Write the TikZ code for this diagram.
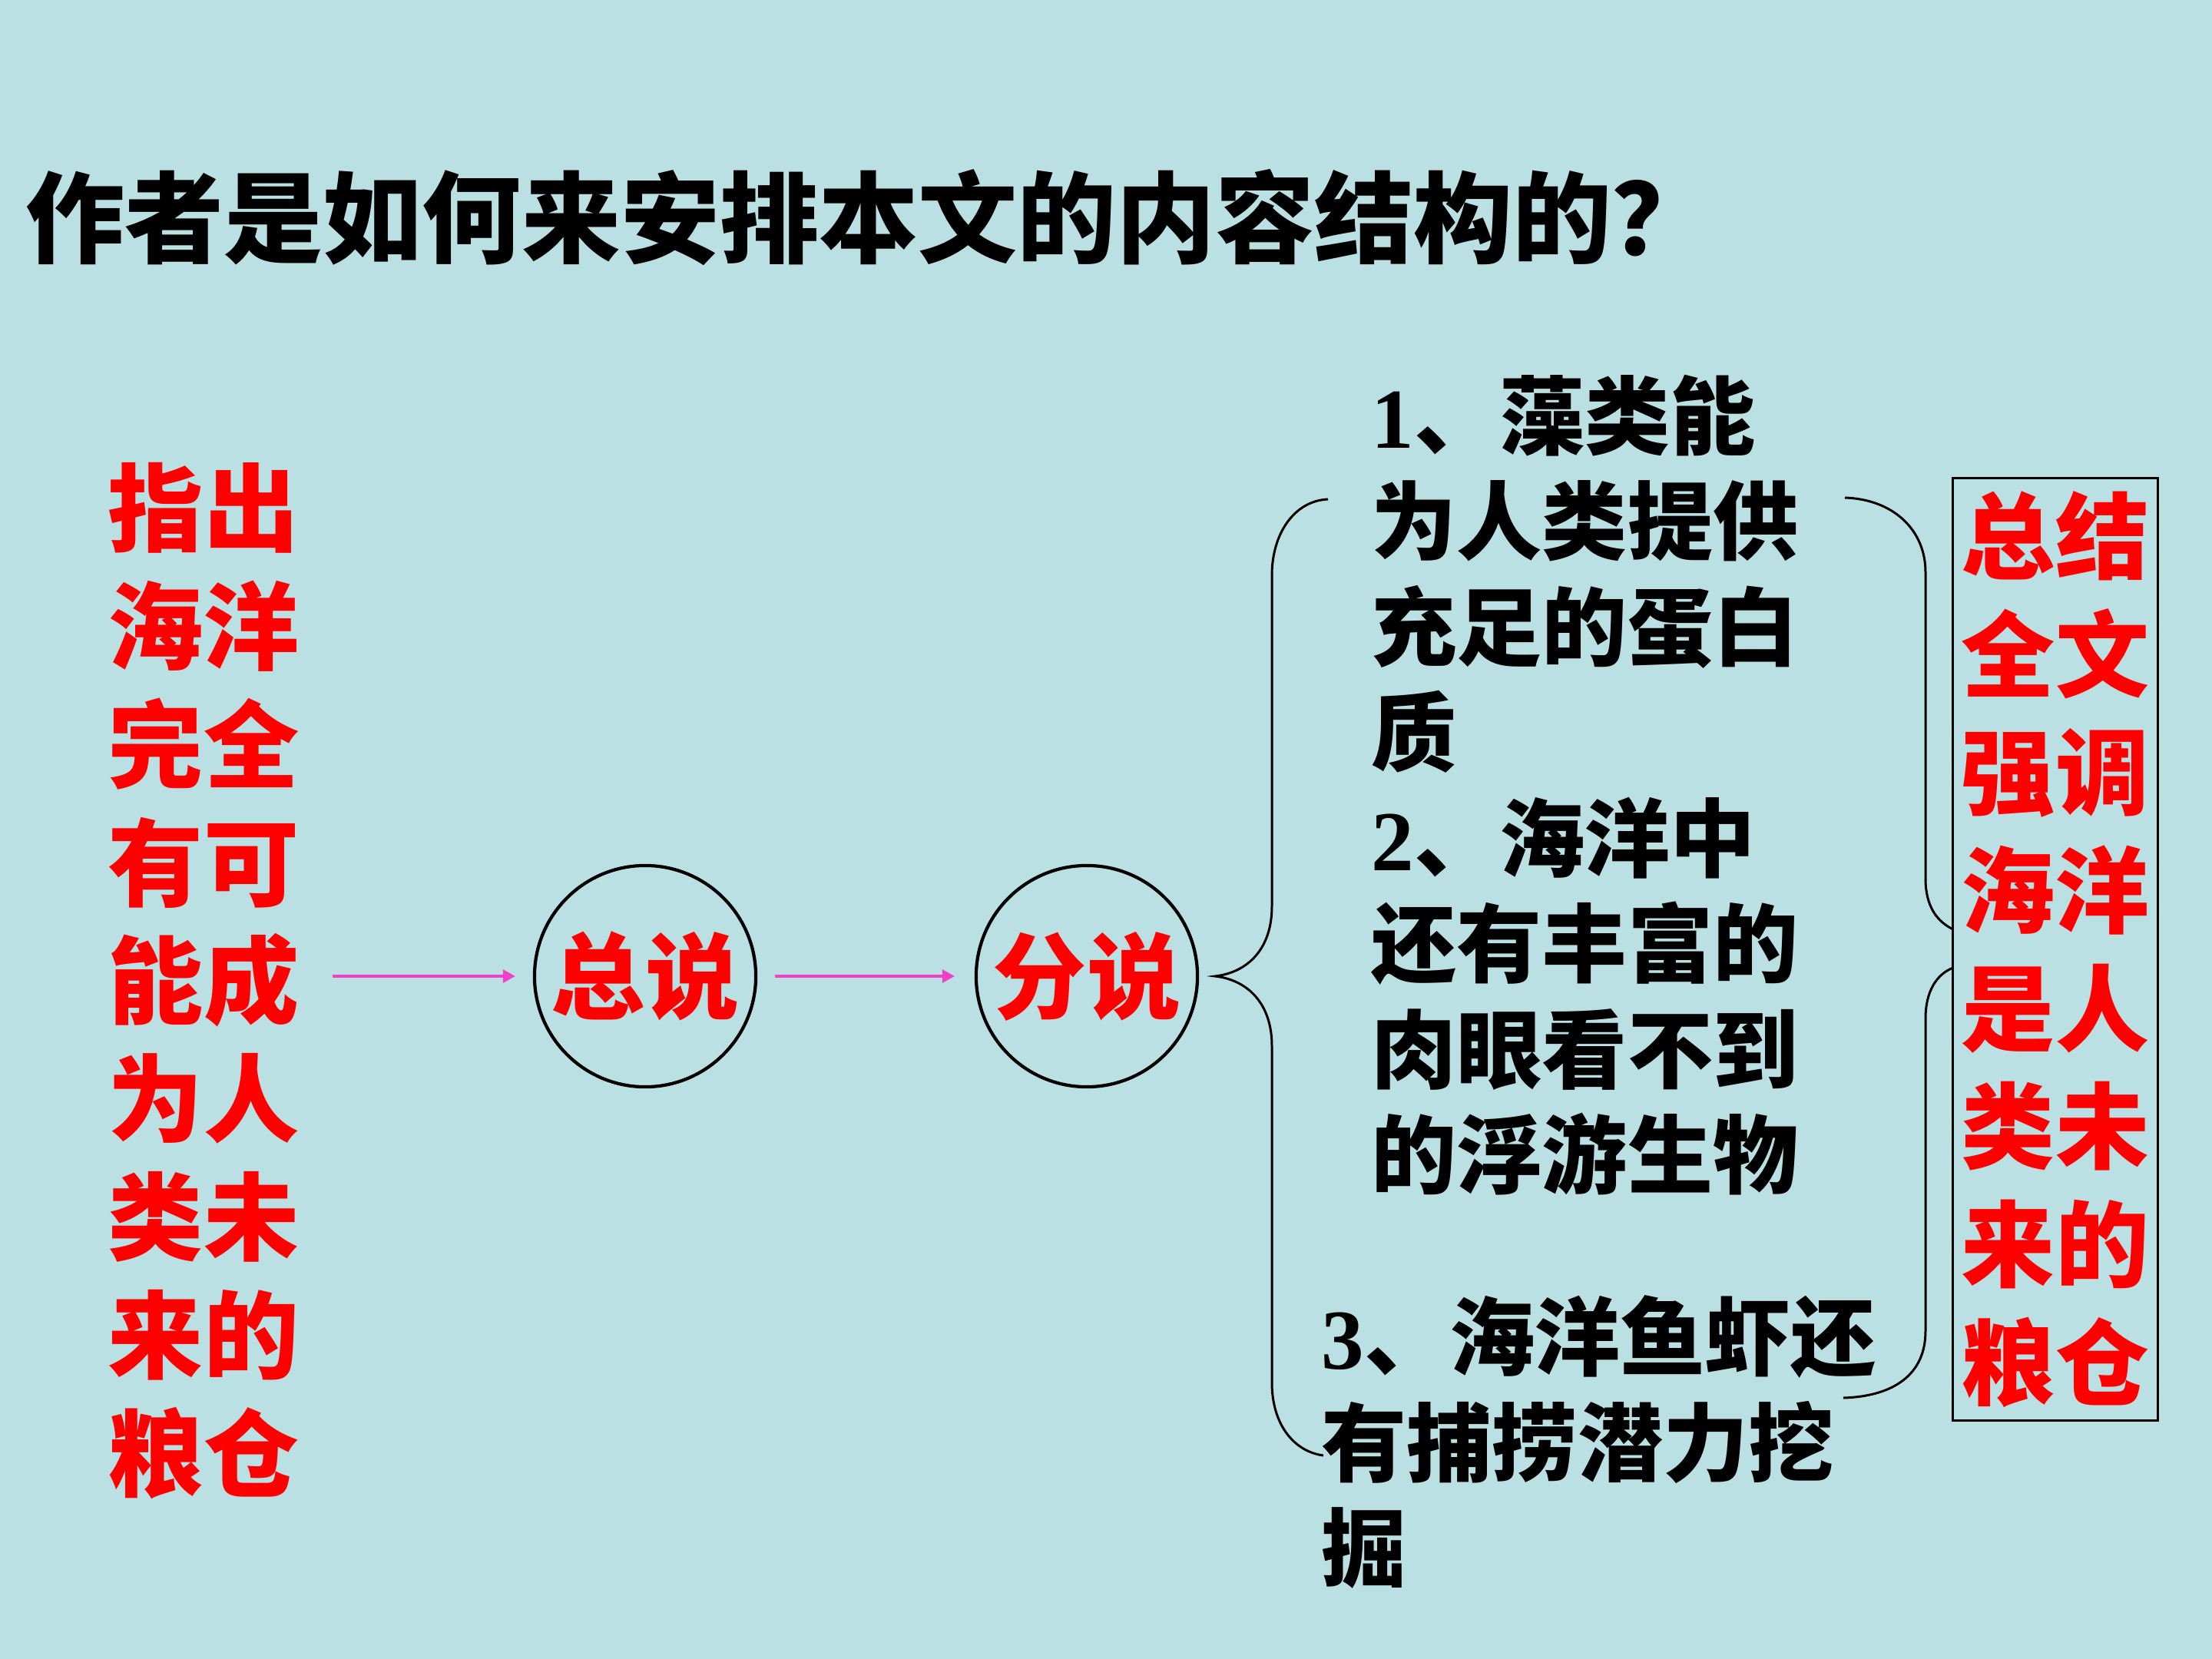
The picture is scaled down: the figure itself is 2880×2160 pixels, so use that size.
\documentclass[tikz,border=0pt]{standalone}
\usepackage{fontspec}
\newfontfamily\cjk{Noto Sans CJK SC}
\newfontfamily\tnr{Liberation Serif}
\usetikzlibrary{arrows.meta}
\definecolor{bgc}{RGB}{187,224,227}
\definecolor{arrc}{RGB}{240,64,200}
\begin{document}
\begin{tikzpicture}[x=0.01cm,y=-0.01cm,
  redtxt/.style={text=red, font=\cjk\bfseries\fontsize{35.3}{43.76}\selectfont, align=center, inner sep=0pt},
  item/.style={font=\cjk\bfseries\fontsize{31.6}{39.1}\selectfont, align=left, inner sep=0pt, anchor=north west},
  ring/.style={circle, draw, line width=1.2pt, minimum size=2.88cm, inner sep=0pt, text=red, font=\cjk\bfseries\fontsize{34.7}{40}\selectfont},
  arr/.style={draw=arrc, line width=0.9pt, -{Triangle[length=0.16cm,width=0.17cm]}},
  brace/.style={draw, line width=0.85pt},
]
\fill[bgc] (0,0) rectangle (2880,2160);
\node[font=\cjk\bfseries\fontsize{36.7}{44}\selectfont, anchor=west, inner sep=0pt] (title) at (33,283) {作者是如何来安排本文的内容结构的？};
\node[redtxt] (lefttext) at (265,1277) {指出\\海洋\\完全\\有可\\能成\\为人\\类未\\来的\\粮仓};
\node[ring] (zong) at (840,1271) {总说};
\node[ring] (fen) at (1415,1271) {分说};
\draw[arr, shorten <=0.43cm, shorten >=0.23cm] (lefttext.east |- zong.west) -- (zong.west);
\draw[arr, shorten <=0.23cm, shorten >=0.26cm] (zong.east) -- (fen.west);
\node[item] (i1) at (1785,487) {{\tnr\bfseries 1}、藻类能\\为人类提供\\充足的蛋白\\质};
\node[item] (i2) at (1785,1037) {{\tnr\bfseries 2}、海洋中\\还有丰富的\\肉眼看不到\\的浮游生物};
\node[item] (i3) at (1720,1686) {{\tnr\bfseries 3}、海洋鱼虾还\\有捕捞潜力挖\\掘};
\node[draw, line width=0.85pt, minimum width=2.66cm, minimum height=12.26cm, inner sep=0pt, text=red, font=\cjk\bfseries\fontsize{34.7}{43.7}\selectfont, align=center] (sumbox) at (2676,1236) {总结\\全文\\强调\\海洋\\是人\\类未\\来的\\粮仓};
\draw[brace] (1729,650) .. controls (1685,652) and (1656,695) .. (1656,749) -- (1656,1180) .. controls (1656,1235) and (1625,1266) .. (1582,1271) .. controls (1625,1276) and (1656,1307) .. (1656,1362) -- (1656,1800) .. controls (1656,1855) and (1685,1890) .. (1723,1895);
\draw[brace] (2402,648) .. controls (2465,650) and (2507,690) .. (2507,745) -- (2507,1144) .. controls (2507,1180) and (2522,1200) .. (2543,1210);
\draw[brace] (2543,1260) .. controls (2522,1268) and (2507,1290) .. (2507,1326) -- (2507,1733) .. controls (2507,1790) and (2465,1818) .. (2400,1820);
\end{tikzpicture}
\end{document}
